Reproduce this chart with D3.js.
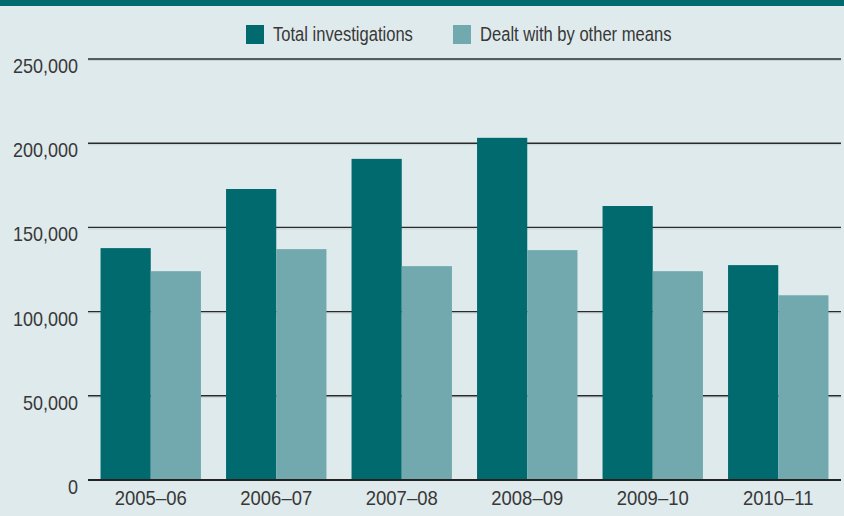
<!DOCTYPE html>
<html>
<head>
<meta charset="utf-8">
<script src="https://cdn.jsdelivr.net/npm/d3@7"></script>
<style>
  html, body { margin: 0; padding: 0; background: #dfeaec; }
  svg { display: block; }
  text { font-family: "Liberation Sans", Arial, sans-serif; fill: #383838; }
</style>
</head>
<body>
<div id="chart"></div>
<script>
const years = ["2005–06", "2006–07", "2007–08", "2008–09", "2009–10", "2010–11"];
const totalInvestigations = [137700, 172800, 190700, 203200, 162700, 127600];
const otherMeans = [124000, 137100, 127000, 136500, 124000, 109700];
const seriesNames = ["Total investigations", "Dealt with by other means"];
const yTicks = [0, 50000, 100000, 150000, 200000, 250000];

const width = 844;
const height = 516;
const margin = { top: 59, right: 3, bottom: 36, left: 88 };
const colors = ["#006a6e", "#72a9ae"];

const svg = d3.select("#chart").append("svg")
  .attr("width", width)
  .attr("height", height);

svg.append("rect")
  .attr("width", width).attr("height", height)
  .attr("fill", "#dfeaec");

// top band
svg.append("rect")
  .attr("x", 0).attr("y", 0)
  .attr("width", width).attr("height", 6)
  .attr("fill", "#006a6e");

const x = d3.scaleBand()
  .domain(years)
  .range([margin.left, width - margin.right])
  .paddingInner(0.2)
  .paddingOuter(0.1);

const xSub = d3.scaleBand()
  .domain([0, 1])
  .range([0, x.bandwidth()]);

const y = d3.scaleLinear()
  .domain([0, 250000])
  .range([height - margin.bottom, margin.top]);

const fmt = d3.format(",");

// condensed look: squeeze the regular face horizontally
function squeeze(px, py, sx) {
  return `translate(${px},${py}) scale(${sx},1)`;
}

// gridlines
const grid = svg.append("g");
yTicks.filter((t) => t > 0).forEach((t) => {
  grid.append("line")
    .attr("x1", margin.left).attr("x2", width - margin.right)
    .attr("y1", y(t) + 1.5).attr("y2", y(t) + 1.5)
    .attr("stroke", "#c5d4d6").attr("stroke-width", 1);
  grid.append("line")
    .attr("x1", margin.left).attr("x2", width - margin.right)
    .attr("y1", y(t)).attr("y2", y(t))
    .attr("stroke", "#2b2b2b").attr("stroke-width", 1.4);
});

// y labels
svg.append("g").selectAll("text")
  .data(yTicks)
  .enter()
  .append("text")
  .attr("transform", (d) => squeeze(78, y(d) + 14, 0.9))
  .attr("text-anchor", "end")
  .style("font-size", "20px")
  .text((d) => fmt(d));

// bars
const data = years.map((yr, i) => ({ year: yr, values: [totalInvestigations[i], otherMeans[i]] }));
const groups = svg.append("g").selectAll("g")
  .data(data)
  .enter()
  .append("g")
  .attr("transform", (d) => `translate(${x(d.year)},0)`);

groups.selectAll("rect")
  .data((d) => d.values.map((v, k) => ({ k, v })))
  .enter()
  .append("rect")
  .attr("x", (d) => xSub(d.k))
  .attr("y", (d) => y(d.v))
  .attr("width", xSub.bandwidth())
  .attr("height", (d) => y(0) - y(d.v))
  .attr("fill", (d) => colors[d.k]);

// baseline
svg.append("line")
  .attr("x1", margin.left).attr("x2", width - margin.right)
  .attr("y1", y(0)).attr("y2", y(0))
  .attr("stroke", "#222").attr("stroke-width", 2);

// x labels
svg.append("g").selectAll("text")
  .data(years)
  .enter()
  .append("text")
  .attr("transform", (d) => squeeze(x(d) + x.bandwidth() / 2, 505, 0.88))
  .attr("text-anchor", "middle")
  .style("font-size", "21px")
  .text((d) => d);

// legend
const legendX = [246, 453];
const legend = svg.append("g").selectAll("g")
  .data(seriesNames)
  .enter()
  .append("g")
  .attr("transform", (d, i) => `translate(${legendX[i]},25)`);
legend.append("rect")
  .attr("width", 18).attr("height", 19)
  .attr("fill", (d, i) => colors[i]);
legend.append("text")
  .attr("transform", squeeze(27, 16, 0.85))
  .style("font-size", "19.5px")
  .text((d) => d);
</script>
</body>
</html>
